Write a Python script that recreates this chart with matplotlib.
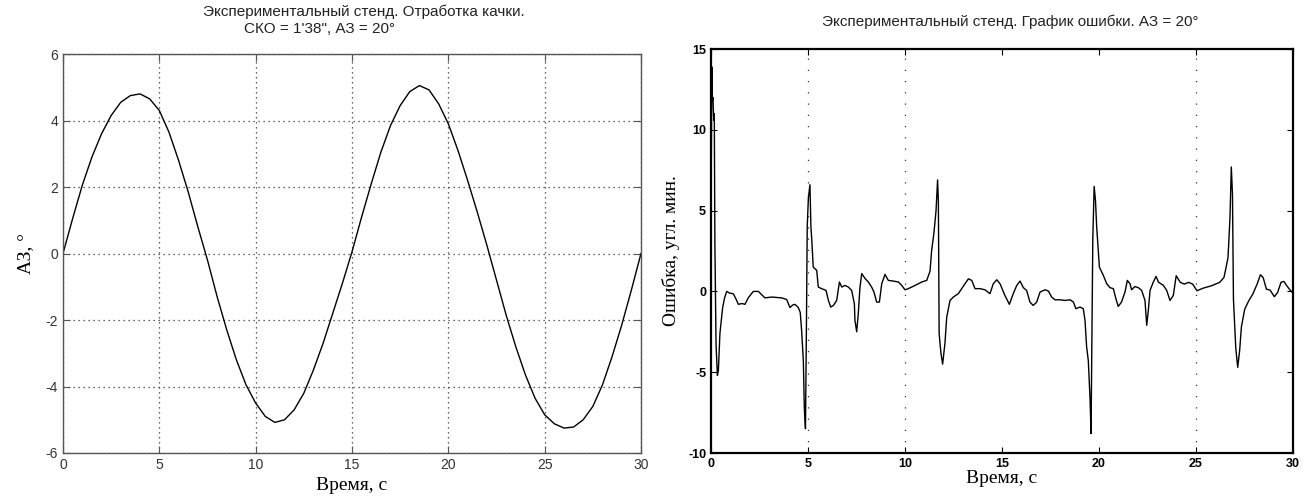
import matplotlib.pyplot as plt
import matplotlib.font_manager as fm

# Эксперимент: отработка качки и график ошибки
plt.rcParams['axes.unicode_minus'] = False

# левый график - угол АЗ, градусы
t_az = [0.0, 0.5, 1.0, 1.5, 2.0, 2.5, 3.0, 3.5, 4.0, 4.5, 5.0, 5.5, 6.0, 6.5, 7.0,
        7.5, 8.0, 8.5, 9.0, 9.5, 10.0, 10.5, 11.0, 11.5, 12.0, 12.5, 13.0, 13.5, 14.0,
        14.5, 15.0, 15.5, 16.0, 16.5, 17.0, 17.5, 18.0, 18.5, 19.0, 19.5, 20.0, 20.5,
        21.0, 21.5, 22.0, 22.5, 23.0, 23.5, 24.0, 24.5, 25.0, 25.5, 26.0, 26.5, 27.0,
        27.5, 28.0, 28.5, 29.0, 29.5, 30.0]
az = [0.0, 1.05, 2.05, 2.9, 3.6, 4.15, 4.55, 4.75, 4.8, 4.65, 4.3, 3.65, 2.8, 1.85, 0.8,
      -0.2, -1.3, -2.3, -3.2, -3.95, -4.5, -4.9, -5.08, -5.0, -4.7, -4.2, -3.5, -2.7, -1.8,
      -0.9, 0.05, 1.1, 2.1, 3.05, 3.85, 4.45, 4.87, 5.05, 4.92, 4.5, 3.9, 3.1,
      2.2, 1.25, 0.25, -0.8, -1.85, -2.8, -3.65, -4.35, -4.85, -5.12, -5.25, -5.22, -5.0,
      -4.6, -3.95, -3.1, -2.15, -1.1, 0.0]

# правый график - ошибка, угл. мин.
t_err = [0.00, 0.04, 0.07, 0.10, 0.14, 0.17, 0.20, 0.26, 0.33, 0.38, 0.42, 0.46, 0.52,
         0.60, 0.70, 0.81, 0.95, 1.15, 1.30, 1.41, 1.60, 1.75, 1.92, 2.18, 2.44, 2.78,
         3.13, 3.64, 3.90, 4.07, 4.20, 4.33, 4.50, 4.60, 4.67, 4.76, 4.81, 4.87, 4.92,
         4.96, 5.02, 5.10, 5.15, 5.19, 5.27, 5.45, 5.53, 5.70, 5.93, 6.05, 6.17, 6.31,
         6.48, 6.62, 6.74, 6.91, 7.08, 7.25, 7.39, 7.42, 7.51, 7.59, 7.68, 7.77, 7.94,
         8.11, 8.28, 8.40, 8.54, 8.68, 8.80, 8.97, 9.14, 9.40, 9.66, 9.83, 10.00, 10.17,
         10.52, 10.86, 11.12, 11.29, 11.37, 11.49, 11.60, 11.68, 11.72, 11.76, 11.85,
         11.94, 12.06, 12.15, 12.32, 12.49, 12.75, 12.92, 13.09, 13.27, 13.44, 13.61,
         13.87, 14.12, 14.38, 14.55, 14.73, 14.90, 15.15, 15.38, 15.58, 15.76, 15.93,
         16.10, 16.27, 16.44, 16.61, 16.79, 16.96, 17.22, 17.39, 17.56, 17.73, 17.99,
         18.25, 18.51, 18.68, 18.81, 19.02, 19.19, 19.28, 19.36, 19.45, 19.54, 19.59,
         19.63, 19.68, 19.75, 19.82, 19.88, 19.97, 20.02, 20.22, 20.40, 20.57, 20.74,
         20.87, 20.99, 21.16, 21.34, 21.46, 21.60, 21.68, 21.85, 22.03, 22.20, 22.37,
         22.46, 22.54, 22.63, 22.80, 22.94, 23.06, 23.32, 23.49, 23.66, 23.83, 23.98,
         24.19, 24.40, 24.62, 24.83, 25.05, 25.37, 25.80, 26.22, 26.44, 26.55, 26.65,
         26.75, 26.82, 26.88, 26.93, 27.05, 27.15, 27.25, 27.34, 27.51, 27.72, 27.93,
         28.15, 28.32, 28.46, 28.63, 28.82, 29.04, 29.21, 29.38, 29.53, 29.68, 29.85,
         30.00]
err = [4.0, 13.9, 11.8, 12.0, 10.6, 11.0, 3.0, -3.3, -5.2, -4.9, -3.8, -2.6, -1.9,
       -1.0, -0.4, 0.0, -0.1, -0.15, -0.5, -0.8, -0.75, -0.8, -0.4, 0.0, 0.0, -0.4,
       -0.35, -0.4, -0.5, -1.0, -0.85, -0.8, -1.0, -1.3, -2.4, -4.3, -7.2, -8.5, -2.0,
       4.0, 5.8, 6.6, 4.0, 3.3, 1.5, 1.3, 0.27, 0.17, 0.06, -0.55, -0.97, -0.87,
       -0.55, 0.58, 0.27, 0.37, 0.27, 0.06, -0.76, -1.8, -2.5, -1.4, 0.27, 1.1, 0.8,
       0.58, 0.27, -0.04, -0.66, -0.66, 0.47, 1.05, 0.68, 0.64, 0.58, 0.37, 0.1, 0.17,
       0.37, 0.58, 0.68, 1.25, 2.5, 3.6, 5.0, 6.9, 5.6, -2.6, -3.8,
       -4.5, -3.2, -1.6, -0.56, -0.35, -0.14, 0.17, 0.47, 0.78, 0.68, 0.17,
       0.17, 0.1, -0.14, 0.47, 0.72, 0.47, -0.25, -0.8, -0.14, 0.37, 0.64,
       0.23, 0.06, -0.66, -0.87, -0.66, -0.04, 0.1, 0.02, -0.35, -0.52, -0.52,
       -0.56, -0.52, -0.66, -1.07, -0.97, -1.07, -1.8, -3.4, -4.3, -6.7, -8.8,
       -3.4, 3.2, 6.5, 5.6, 4.0, 2.4, 1.5, 1.0, 0.47, 0.23, 0.17,
       -0.45, -0.93, -0.66, -0.04, 0.68, 0.47, 0.1, 0.3, 0.23, 0.06, -0.56,
       -2.1, -1.2, 0.06, 0.58, 0.93, 0.58, 0.37, 0.06, -0.56, -0.25, 0.97,
       0.56, 0.45, 0.56, 0.45, 0.04, 0.2, 0.35, 0.56, 0.86, 1.48, 2.1,
       4.5, 7.7, 6.0, -0.47, -3.5, -4.7, -3.66, -2.2, -1.1, -0.58, -0.16,
       0.45, 1.03, 0.86, 0.14, 0.08, -0.33, -0.06, 0.56, 0.62, 0.35, 0.08,
       -0.1]

x_ticks = [0, 5, 10, 15, 20, 25, 30]
az_ticks = [-6, -4, -2, 0, 2, 4, 6]
err_ticks = [-10, -5, 0, 5, 10, 15]
err_grid_x = [5, 10, 25]

title_left_1 = 'Экспериментальный стенд. Отработка качки.'
title_left_2 = 'СКО = 1\'38", АЗ = 20°'
title_right = 'Экспериментальный стенд. График ошибки. АЗ = 20°'

names = {f.name for f in fm.fontManager.ttflist}
narrow = 'Liberation Sans Narrow' if 'Liberation Sans Narrow' in names else 'Liberation Sans'
serif = 'Liberation Serif'

W, H = 1311, 504
fig = plt.figure(figsize=(W / 100, H / 100), dpi=100)


def box(x0, y0, x1, y1):
    # пиксели -> доли фигуры
    return [x0 / W, 1 - y1 / H, (x1 - x0) / W, (y1 - y0) / H]


# ---- левый график ----
ax1 = fig.add_axes(box(63, 54, 641, 453))
ax1.plot(t_az, az, color='black', lw=1.0)
ax1.set_xlim(0, 30)
ax1.set_ylim(-6, 6)
ax1.set_xticks(x_ticks)
ax1.set_yticks(az_ticks)
ax1.grid(True, linestyle=(0, (1, 3)), color='#333333', lw=0.9)
for s in ax1.spines.values():
    s.set_color('#555555')
    s.set_linewidth(1.0)
ax1.tick_params(direction='in', top=True, right=True, length=5, colors='#555555',
                labelcolor='#333333', labelsize=10)
for lab in ax1.get_xticklabels() + ax1.get_yticklabels():
    lab.set_family(narrow)
ax1.set_ylabel('АЗ, °', family=serif, fontsize=14, labelpad=8)
ax1.set_xlabel('Время, с', family=serif, fontsize=14, labelpad=4)
fig.text(364 / W, 1 - 12 / H, title_left_1, family=narrow, fontsize=11,
         ha='center', va='center', color='#222222')
fig.text(320 / W, 1 - 29 / H, title_left_2, family=narrow, fontsize=11,
         ha='center', va='center', color='#222222')

# ---- правый график ----
ax2 = fig.add_axes(box(711, 49, 1293, 453))
ax2.plot(t_err, err, color='black', lw=1.0)
ax2.set_xlim(0, 30)
ax2.set_ylim(-10, 15)
ax2.set_xticks(x_ticks)
ax2.set_yticks(err_ticks)
for gx in err_grid_x:
    ax2.axvline(gx, color='#333333', linestyle=(0, (1, 8)), lw=0.9)
for s in ax2.spines.values():
    s.set_color('black')
    s.set_linewidth(1.6)
ax2.tick_params(direction='in', top=True, right=True, length=4, colors='black',
                labelsize=9)
for lab in ax2.get_xticklabels() + ax2.get_yticklabels():
    lab.set_family(narrow)
    lab.set_fontweight('bold')
ax2.set_ylabel('Ошибка, угл. мин.', family=serif, fontsize=14, labelpad=6)
ax2.set_xlabel('Время, с', family=serif, fontsize=14, labelpad=0)
fig.text(1010 / W, 1 - 22 / H, title_right, family=narrow, fontsize=11,
         ha='center', va='center', color='#222222')

fig.savefig('out.png', dpi=100)
